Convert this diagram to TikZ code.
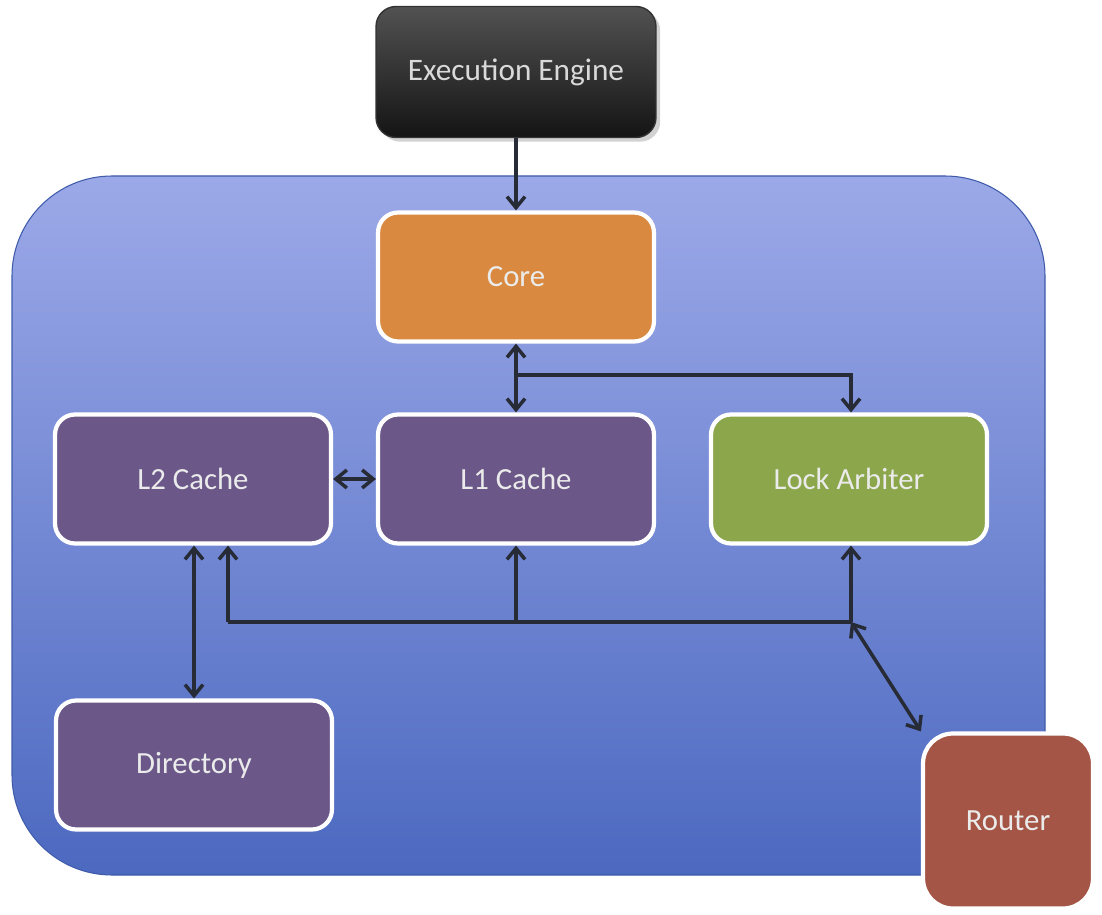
\documentclass[tikz,border=0pt]{standalone}
\usepackage{fontspec}
\setmainfont{Carlito}
\usepackage{tikz}
\usetikzlibrary{shapes,arrows.meta,shadows}

\definecolor{bgtop}{HTML}{9CA9E8}
\definecolor{bgbot}{HTML}{4C69C0}
\definecolor{bgline}{HTML}{3F5BAA}
\definecolor{coreorange}{HTML}{D98A40}
\definecolor{cachepurple}{HTML}{6B5889}
\definecolor{lockgreen}{HTML}{8BA64B}
\definecolor{routerred}{HTML}{A45545}
\definecolor{wiregray}{HTML}{262B36}

\begin{document}
\begin{tikzpicture}[x=0.02cm,y=-0.02cm]
    \tikzstyle{block}=[rectangle,rounded corners=0.4cm,draw=white,line width=2.4pt,
      minimum width=5.52cm,minimum height=2.58cm,font=\fontsize{17.5}{21}\selectfont,text=white!92!black]
    \tikzstyle{engine}=[rectangle,rounded corners=0.4cm,draw=black!80,line width=0.8pt,
      minimum width=5.6cm,minimum height=2.62cm,top color=black!68,bottom color=black!92,
      drop shadow={opacity=0.35},font=\fontsize{17.8}{21}\selectfont,text=white!85!black]
    \tikzstyle{wire}=[draw=wiregray,line width=2pt,arrows={-Straight Barb[length=2.2mm,width=3.6mm]}]
    \tikzstyle{wire2}=[wire,arrows={Straight Barb[length=2.2mm,width=3.6mm]-Straight Barb[length=2.2mm,width=3.6mm]}]
    \useasboundingbox (0,0) rectangle (1102,915);
    % chip area
    \fill[white] (0,0) rectangle (1102,915);
    \draw[bgline,line width=0.6pt,rounded corners=2cm,top color=bgtop,bottom color=bgbot]
      (12,176) rectangle (1045,875);
    % blocks
    \node[engine] (engine) at (516,72) {Execution Engine};
    \node[block,fill=coreorange] (core) at (516,277) {Core};
    \node[block,fill=cachepurple] (l2) at (193,479) {L2 Cache};
    \node[block,fill=cachepurple] (l1) at (516,479) {L1 Cache};
    \node[block,fill=lockgreen] (lock) at (849,479) {Lock Arbiter};
    \node[block,fill=cachepurple] (dir) at (194,765) {Directory};
    \node[block,fill=routerred,rounded corners=0.6cm,minimum width=3.4cm,minimum height=3.5cm] (router) at (1008,821) {Router};
    % bus points
    \coordinate (split) at (516,375);
    \coordinate (busL) at (228,622);
    \coordinate (busM) at (516,622);
    \coordinate (busR) at (851,622);
    % connections
    \draw[wire] (engine) -- (core);
    \draw[wire2] (core) -- (l1);
    \draw[wire] (split) -| (lock.north -| busR);
    \draw[wire2] (l2) -- (l1);
    \draw[wire2] (l2.south -| dir.north) -- (dir);
    \draw[wire] (busL) -- (l2.south -| busL);
    \draw[wire] (busM) -- (l1);
    \draw[wire] (busR) -- (lock.south -| busR);
    \draw[wiregray,line width=2pt] (busL) -- (busR);
    \draw[wire2] (busR) -- (router.north west);
\end{tikzpicture}
\end{document}
